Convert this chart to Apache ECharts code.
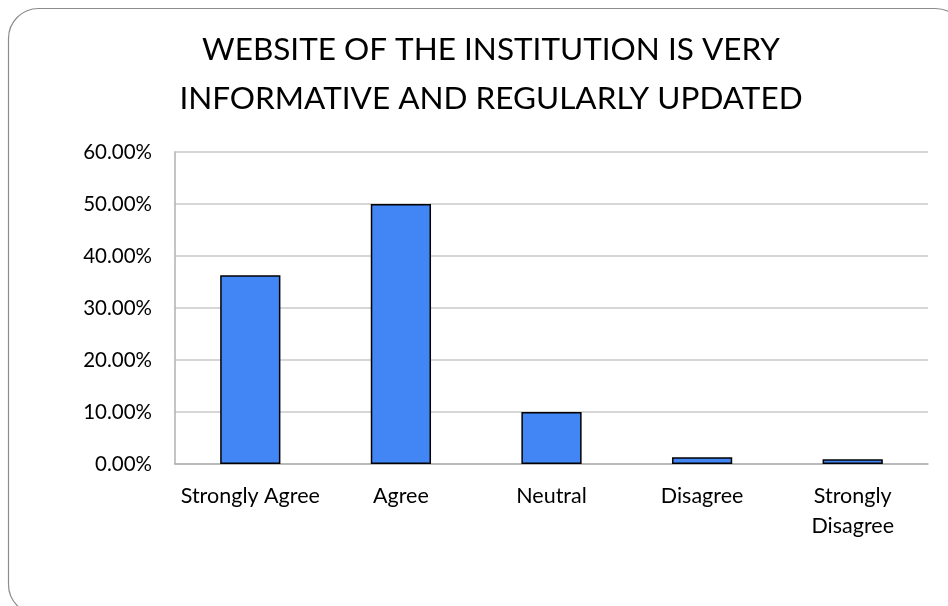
<!DOCTYPE html>
<html>
<head>
<meta charset="utf-8">
<script src="https://cdn.jsdelivr.net/npm/echarts@6/dist/echarts.min.js"></script>
<style>
  html, body { margin: 0; padding: 0; background: #fff; }
  #chart { width: 948px; height: 606px; }
</style>
</head>
<body>
<div id="chart"></div>
<script>
// 数据
const categories = ['Strongly Agree', 'Agree', 'Neutral', 'Disagree', 'Strongly\nDisagree']
const percentValues = [36.3, 50.0, 10.0, 1.3, 0.9]
const yTicks = { min: 0, max: 60, interval: 10 }

let myChart = echarts.init(document.getElementById('chart'))
const options = {
    backgroundColor: '#fff',
    textStyle: { fontFamily: 'Lato' },
    //外框
    graphic: [
        {
            type: 'rect',
            shape: { x: 8.5, y: 8.5, width: 957, height: 606, r: 30 },
            style: { fill: 'none', stroke: '#8c8c8c', lineWidth: 1.2 },
            silent: true
        }
    ],
    title: {
        text: 'WEBSITE OF THE INSTITUTION IS VERY\nINFORMATIVE AND REGULARLY UPDATED',
        left: 486,
        top: 20,
        textAlign: 'center',
        textStyle: {
            fontFamily: 'Lato',
            fontSize: 31.5,
            fontWeight: 'normal',
            color: '#000',
            lineHeight: 49
        }
    },
    grid: {
        left: 175,
        right: 20,
        top: 152,
        bottom: 142,
        containLabel: false
    },
    xAxis: {
        type: 'category',
        data: categories,
        axisTick: { show: false },
        axisLine: { lineStyle: { color: '#b0b0b0', width: 1.5 } },
        axisLabel: {
            color: '#000',
            fontSize: 21.5,
            lineHeight: 30,
            margin: 17,
            interval: 0
        }
    },
    yAxis: {
        type: 'value',
        min: yTicks.min,
        max: yTicks.max,
        interval: yTicks.interval,
        axisLine: { show: true, lineStyle: { color: '#b0b0b0', width: 1.5 } },
        axisTick: { show: false },
        splitLine: { lineStyle: { color: '#c8c8c8', width: 1.5 } },
        axisLabel: {
            color: '#000',
            fontSize: 20.5,
            margin: 23,
            formatter: v => v.toFixed(2) + '%'
        }
    },
    series: [
        {
            type: 'bar',
            data: percentValues,
            barWidth: '40%',
            itemStyle: {
                color: '#4285f4',
                borderColor: '#000',
                borderWidth: 1.5
            }
        }
    ]
}
myChart.setOption(options)
</script>
</body>
</html>
